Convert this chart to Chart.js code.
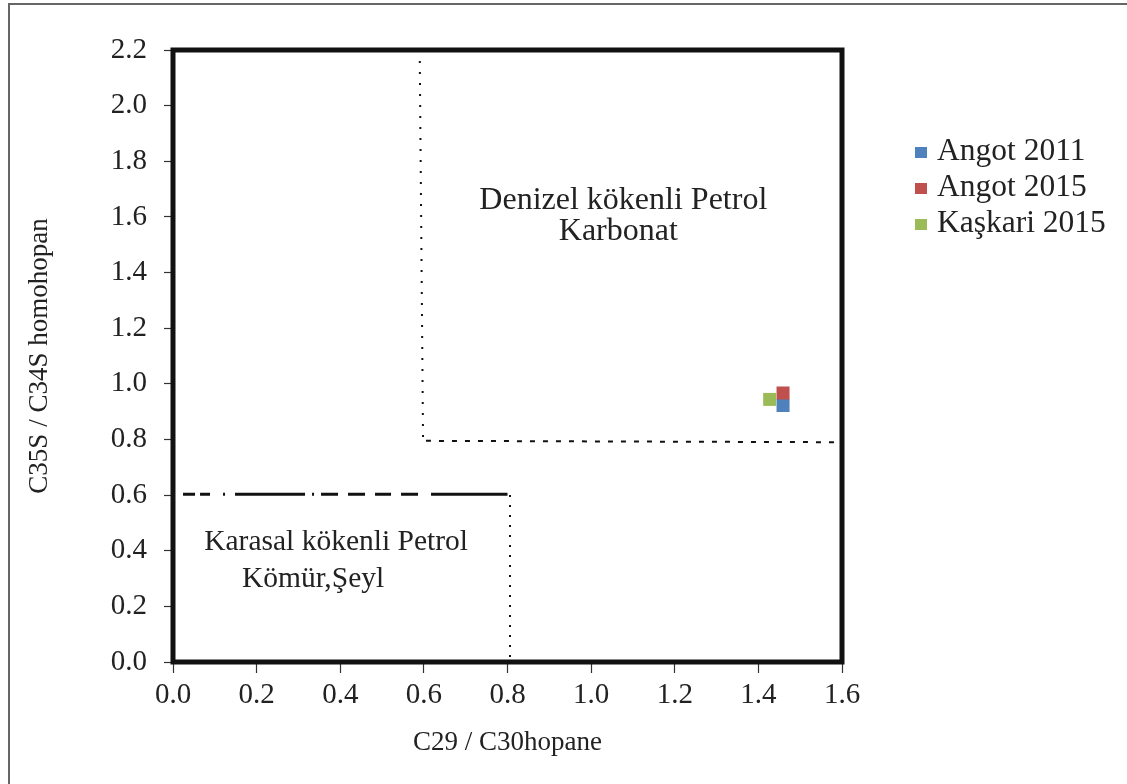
<!DOCTYPE html>
<html>
<head>
<meta charset="utf-8">
<script src="https://cdn.jsdelivr.net/npm/chart.js@4/dist/chart.umd.min.js"></script>
<style>
  html, body { margin: 0; padding: 0; background: #fff; }
  #wrap { width: 1127px; height: 784px; position: relative; }
</style>
</head>
<body>
<div id="wrap"><canvas id="BiomarkerChart" width="1127" height="784"></canvas></div>
<script>
// sample values (C29/C30 hopane, C35S/C34S homohopane)
var seriesNames = ["Angot 2011", "Angot 2015", "Kaşkari 2015"];
var seriesColors = ["#4F81BD", "#C0504D", "#9BBB59"];
var seriesX = [1.459, 1.459, 1.427];
var seriesY = [0.922, 0.967, 0.944];

// field boundaries
var marineVertical = [{x: 0.59, y: 2.2}, {x: 0.598, y: 0.806}];
var marineHorizontal = [{x: 0.605, y: 0.795}, {x: 1.6, y: 0.79}];
var terrestrialTop = [{x: 0.024, y: 0.603}, {x: 0.8, y: 0.603}];
var terrestrialSide = [{x: 0.806, y: 0.6}, {x: 0.806, y: 0.0}];

// field labels: text, x, y (data units)
var fieldTexts = ["Denizel kökenli Petrol", "Karbonat", "Karasal kökenli Petrol", "Kömür,Şeyl"];
var fieldX = [1.077, 1.065, 0.39, 0.335];
var fieldY = [1.66, 1.546, 0.431, 0.298];
var fieldSize = [32, 32, 29.5, 29.5];

var xTicks = [0, 0.2, 0.4, 0.6, 0.8, 1.0, 1.2, 1.4, 1.6];
var yTicks = [0, 0.2, 0.4, 0.6, 0.8, 1.0, 1.2, 1.4, 1.6, 1.8, 2.0, 2.2];

var serif = "'Liberation Serif', 'DejaVu Serif', serif";

var datasets = [];
for (var i = 0; i < seriesNames.length; i++) {
    datasets.push({
        label: seriesNames[i],
        data: [{x: seriesX[i], y: seriesY[i]}],
        backgroundColor: seriesColors[i],
        borderColor: seriesColors[i],
        pointStyle: 'rect',
        pointRadius: 9.2,
        pointBorderWidth: 0,
        order: 3 - i
    });
}

function boundary(points, dash, width) {
    return {
        label: '',
        data: points,
        showLine: true,
        borderColor: '#111',
        borderWidth: width,
        borderDash: dash,
        pointRadius: 0,
        fill: false
    };
}
datasets.push(boundary(marineVertical, [2, 9], 2));
datasets.push(boundary(marineHorizontal, [5, 8], 2));
datasets.push(boundary(terrestrialTop, [12, 5, 10, 13, 2, 10, 70, 7, 2, 7, 17, 10, 17, 10, 16, 10, 17, 13, 80], 2.8));
datasets.push(boundary(terrestrialSide, [2, 8], 2));

var framePlugin = {
    id: 'frame',
    beforeDraw: function(chart){
        var ctx = chart.ctx;
        ctx.save();
        ctx.fillStyle = '#fff';
        ctx.fillRect(0, 0, chart.width, chart.height);
        ctx.strokeStyle = '#666';
        ctx.lineWidth = 2;
        ctx.strokeRect(9, 4, chart.width + 20, chart.height + 20);
        ctx.restore();
    },
    afterDatasetsDraw: function(chart){
        var ctx = chart.ctx;
        var a = chart.chartArea;
        var xs = chart.scales.x, ys = chart.scales.y;
        ctx.save();
        ctx.strokeStyle = '#111';
        ctx.lineWidth = 5;
        ctx.strokeRect(a.left, a.top, a.right - a.left, a.bottom - a.top);

        ctx.fillStyle = '#222';
        ctx.textAlign = 'center';
        ctx.textBaseline = 'middle';
        for (var i = 0; i < fieldTexts.length; i++) {
            ctx.font = fieldSize[i] + "px " + serif;
            ctx.fillText(fieldTexts[i], xs.getPixelForValue(fieldX[i]), ys.getPixelForValue(fieldY[i]));
        }

        // legend
        var rows = [152, 188, 224];
        ctx.textAlign = 'left';
        ctx.font = "31.5px " + serif;
        for (var j = 0; j < seriesNames.length; j++) {
            ctx.fillStyle = seriesColors[j];
            ctx.fillRect(915, rows[j] - 5, 12, 11);
            ctx.fillStyle = '#222';
            ctx.fillText(seriesNames[j], 937, rows[j]);
        }
        ctx.restore();
    }
};

var chart = new Chart(document.getElementById('BiomarkerChart').getContext('2d'), {
    type: 'scatter',
    data: { datasets: datasets },
    options: {
        responsive: false,
        animation: false,
        layout: { padding: { top: 50, right: 285, bottom: 22, left: 0 } },
        plugins: {
            legend: { display: false },
            tooltip: { enabled: false }
        },
        scales: {
            x: {
                type: 'linear',
                min: 0,
                max: 1.6,
                afterFit: function(s){ s.height = 100; },
                afterBuildTicks: function(s){ s.ticks = xTicks.map(function(v){ return {value: v}; }); },
                ticks: {
                    color: '#222',
                    padding: 5,
                    font: { family: serif, size: 29 },
                    callback: function(v){ return v.toFixed(1); }
                },
                grid: { drawOnChartArea: false, color: '#333', tickLength: 11, tickWidth: 1.2 },
                border: { display: false },
                title: {
                    display: true,
                    text: 'C29 / C30hopane',
                    color: '#222',
                    font: { family: serif, size: 27 },
                    padding: { top: 0, bottom: 3 }
                }
            },
            y: {
                type: 'linear',
                min: 0,
                max: 2.2,
                afterFit: function(s){ s.width = 173; },
                afterBuildTicks: function(s){ s.ticks = yTicks.map(function(v){ return {value: v}; }); },
                ticks: {
                    color: '#222',
                    padding: 17,
                    font: { family: serif, size: 29 },
                    callback: function(v){ return v.toFixed(1); }
                },
                grid: { drawOnChartArea: false, color: '#333', tickLength: 9, tickWidth: 1.2 },
                border: { display: false },
                title: {
                    display: true,
                    text: 'C35S / C34S homohopan',
                    color: '#222',
                    font: { family: serif, size: 27 },
                    padding: { top: 24, bottom: 0 }
                }
            }
        }
    },
    plugins: [framePlugin]
});
</script>
</body>
</html>
